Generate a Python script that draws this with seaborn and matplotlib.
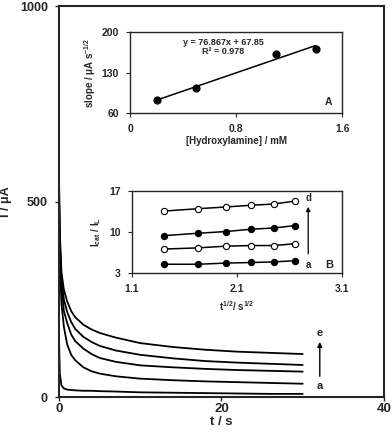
import numpy as np
import pandas as pd
import matplotlib
matplotlib.use("Agg")
import matplotlib.pyplot as plt
import seaborn as sns

# chronoamperograms (curves a..e)
t_s = [0, 0.1, 0.3, 0.6, 1, 1.5, 2, 3, 4, 5, 7, 10, 14, 18, 22, 26, 30]
curve_a = [150, 60, 30, 22, 19, 18, 17, 16, 16, 15, 14, 12, 11, 10, 9, 8, 8]
curve_b = [500, 350, 240, 180, 135, 108, 94, 76, 66, 60, 53, 47, 43, 40, 38, 36, 34]
curve_c = [520, 380, 285, 220, 190, 160, 143, 124, 110, 100, 90, 81, 76, 72, 69, 67, 65]
curve_d = [540, 400, 300, 250, 218, 192, 174, 154, 141, 131, 119, 108, 99, 92, 88, 85, 82]
curve_e = [560, 420, 320, 275, 245, 220, 204, 185, 173, 164, 152, 138, 128, 121, 116, 113, 110]
curve_names = ["a", "b", "c", "d", "e"]

# inset A: slope vs concentration
conc_mM = [0.2, 0.5, 1.1, 1.4]
slope = [82.5, 103, 162, 171]

# inset B: Icat/IL vs t^1/2
sqrt_t = [1.41, 1.73, 2.00, 2.24, 2.45, 2.65]
ratio_a = [4.5, 4.5, 4.7, 4.8, 4.9, 5.1]
ratio_b = [7.1, 7.3, 7.6, 7.7, 7.7, 8.0]
ratio_c = [9.4, 9.8, 10.1, 10.5, 10.7, 11.1]
ratio_d = [13.6, 14.0, 14.3, 14.6, 14.8, 15.3]

sns.set_style("ticks")
plt.rcParams["font.family"] = ["Liberation Sans", "DejaVu Sans"]
plt.rcParams["font.weight"] = "bold"
plt.rcParams["mathtext.fontset"] = "custom"
plt.rcParams["mathtext.rm"] = "Liberation Sans:bold"
plt.rcParams["mathtext.bf"] = "Liberation Sans:bold"
plt.rcParams["mathtext.default"] = "bf"
plt.rcParams["xtick.direction"] = "out"
plt.rcParams["ytick.direction"] = "out"

fig = plt.figure(figsize=(3.92, 4.40), dpi=100)

# ---- main axes
ax = fig.add_axes([0.1505, 0.0977, 0.829, 0.888])
df = pd.DataFrame({"t": t_s * 5,
                   "I": curve_a + curve_b + curve_c + curve_d + curve_e,
                   "curve": sum([[n] * len(t_s) for n in curve_names], [])})
sns.lineplot(data=df, x="t", y="I", units="curve", estimator=None,
             color="black", lw=1.3, ax=ax)
ax.set_xlim(0, 40)
ax.set_ylim(0, 1000)
ax.set_xticks([0, 20, 40])
ax.set_yticks([0, 500, 1000])
ax.set_xlabel("t / s", fontsize=9.5, fontweight="bold", labelpad=0.5)
ax.set_ylabel("I / μA", fontsize=9, fontweight="bold")
ax.yaxis.set_label_coords(-0.145, 0.5)
ax.tick_params(axis="x", labelsize=9.5, length=3, width=1, pad=1.5)
ax.tick_params(axis="y", labelsize=9, length=3, width=1, pad=5)
for sp in ax.spines.values():
    sp.set_linewidth(1.5)
ax.annotate("", xy=(32.1, 148), xytext=(32.1, 46),
            arrowprops=dict(arrowstyle="-|>", color="black", lw=1,
                            mutation_scale=7))
ax.text(32.1, 152, "e", ha="center", va="bottom", fontsize=8, fontweight="bold")
ax.text(32.1, 40, "a", ha="center", va="top", fontsize=8, fontweight="bold")

# ---- inset A
axA = fig.add_axes([0.332, 0.743, 0.541, 0.184])
sns.regplot(x=conc_mM, y=slope, ci=None, color="black", ax=axA,
            scatter_kws=dict(s=24, color="black", alpha=1, zorder=3),
            line_kws=dict(lw=1.1))
axA.set_xlim(0, 1.6)
axA.set_ylim(60, 200)
axA.set_xticks([0, 0.8, 1.6])
axA.set_xticklabels(["0", "0.8", "1.6"])
axA.set_yticks([60, 130, 200])
axA.tick_params(labelsize=7.5, length=3, width=0.8, pad=5)
axA.set_xlabel("[Hydroxylamine] / mM", fontsize=7, fontweight="bold", labelpad=1)
axA.set_ylabel(r"slope / μA s$^{-1/2}$", fontsize=7, fontweight="bold", labelpad=3)
axA.text(0.44, 0.93, "y = 76.867x + 67.85\nR² = 0.978", transform=axA.transAxes,
         ha="center", va="top", fontsize=6.5, fontweight="bold", linespacing=1.1)
axA.text(1.50, 80, "A", ha="center", va="center", fontsize=7.5, fontweight="bold")
for sp in axA.spines.values():
    sp.set_linewidth(1)

# ---- inset B
axB = fig.add_axes([0.336, 0.3795, 0.536, 0.186])
for vals, filled in [(ratio_a, True), (ratio_b, False), (ratio_c, True), (ratio_d, False)]:
    sns.lineplot(x=sqrt_t, y=vals, color="black", lw=1.1, marker="o",
                 markersize=4.5, markeredgecolor="black", markeredgewidth=0.8,
                 markerfacecolor="black" if filled else "white", ax=axB)
axB.set_xlim(1.1, 3.1)
axB.set_ylim(3, 17)
axB.set_xticks([1.1, 2.1, 3.1])
axB.set_yticks([3, 10, 17])
axB.tick_params(labelsize=7.5, length=3, width=0.8, pad=5)
axB.set_xlabel(r"t$^{1/2}$/ s$^{1/2}$", fontsize=7, fontweight="bold", labelpad=4)
axB.set_ylabel(r"I$_{cat}$ / I$_{L}$", fontsize=7, fontweight="bold", labelpad=4)
axB.annotate("", xy=(2.78, 14.8), xytext=(2.78, 5.8),
             arrowprops=dict(arrowstyle="-|>", color="black", lw=0.9,
                             mutation_scale=6))
axB.text(2.78, 15.0, "d", ha="center", va="bottom", fontsize=7, fontweight="bold")
axB.text(2.78, 4.4, "a", ha="center", va="center", fontsize=7, fontweight="bold")
axB.text(2.98, 4.4, "B", ha="center", va="center", fontsize=8, fontweight="bold")
for sp in axB.spines.values():
    sp.set_linewidth(1)

fig.savefig("out.png", dpi=100)
